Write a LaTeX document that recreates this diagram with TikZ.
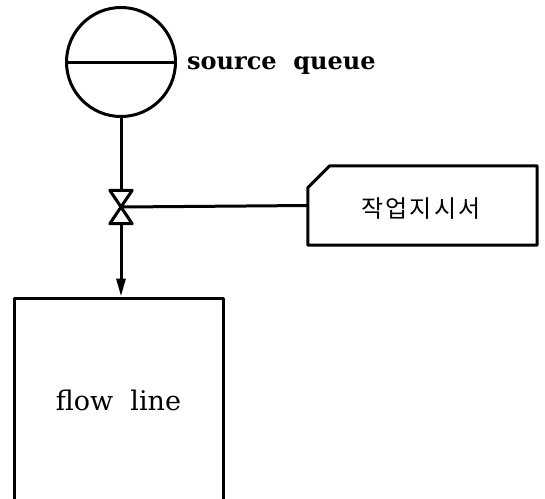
\documentclass[tikz,border=0pt]{standalone}
\usepackage{fontspec}
\setmainfont{DejaVu Serif}
\newfontfamily\krfont[LetterSpace=10]{Noto Sans CJK KR}
\usetikzlibrary{arrows.meta}
\tikzset{
  ln/.style={line width=3pt, line join=round},
  lbl/.style={inner sep=0pt, font=\fontsize{24}{28}\selectfont\bfseries},
}
\begin{document}
\begin{tikzpicture}[x=1pt,y=-1pt]
\useasboundingbox (0,0) rectangle (545,498);
\clip (0,0) rectangle (545,498);
\fill[white] (0,0) rectangle (545,498);
% source queue
\node (q) [circle, draw, ln, minimum size=109pt, inner sep=0pt] at (121,62) {};
\draw[ln] (q.west) -- (q.east);
\node (ql) [lbl, anchor=base west] at (187,69) {source\ \ queue};
% valve
\node (v) [minimum width=22pt, minimum height=33pt, inner sep=0pt] at (121,207) {};
\draw[ln] (v.north west) -- (v.north east) -- (v.south west) -- (v.south east) -- cycle;
% work order document
\node (doc) [minimum width=229pt, minimum height=79pt, inner sep=0pt] at (422.5,205.5) {};
\draw[ln] (doc.south west) -- ([yshift=-22pt]doc.north west) -- ([xshift=22pt]doc.north west)
  -- (doc.north east) -- (doc.south east) -- cycle;
\node (dt) at (421,209) {\krfont\fontsize{24}{28}\selectfont 작업지시서};
% flow line
\node (fl) [draw, ln, minimum width=209pt, minimum height=204pt, inner sep=0pt,
  font=\fontsize{27}{30}\selectfont] at (118.5,400) {flow\ \ line};
% connectors
\draw[ln] (q.south) -- (v.north);
\draw[ln] (v.center) -- (doc.west);
\draw[ln, -{Triangle[length=18pt,width=9pt]}] (v.south) -- (v.south |- fl.north);
\end{tikzpicture}
\end{document}
